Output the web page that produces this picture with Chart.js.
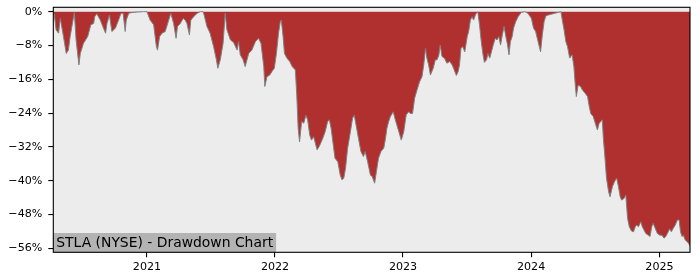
<!DOCTYPE html>
<html><head><meta charset="utf-8">
<script src="https://cdn.jsdelivr.net/npm/chart.js@4/dist/chart.umd.min.js"></script>
<style>html,body{margin:0;padding:0;background:#fff}#wrap{width:700px;height:280px;position:relative}</style>
</head><body><div id="wrap"><canvas id="c"></canvas></div>
<script>
const dates = [
'2020-04-09','2020-04-12','2020-04-17','2020-04-24','2020-04-29','2020-05-08','2020-05-16','2020-05-22','2020-05-27','2020-06-01',
'2020-06-08','2020-06-13','2020-06-21','2020-06-25','2020-07-04','2020-07-16','2020-07-25','2020-08-02','2020-08-05','2020-08-11',
'2020-08-21','2020-08-30','2020-09-05','2020-09-09','2020-09-16','2020-09-23','2020-10-03','2020-10-12','2020-10-19','2020-10-25',
'2020-10-31','2020-11-03','2020-11-10','2020-11-19','2020-12-04','2020-12-22','2021-01-01','2021-01-10','2021-01-20','2021-01-28',
'2021-01-31','2021-02-06','2021-02-13','2021-02-22','2021-03-04','2021-03-10','2021-03-18','2021-03-25','2021-03-29','2021-04-06',
'2021-04-14','2021-04-20','2021-04-25','2021-05-02','2021-05-06','2021-05-14','2021-05-24','2021-06-02','2021-06-10','2021-06-13',
'2021-06-21','2021-06-30','2021-07-10','2021-07-18','2021-07-22','2021-07-29','2021-08-06','2021-08-12','2021-08-17','2021-08-27',
'2021-09-05','2021-09-15','2021-09-19','2021-09-24','2021-10-02','2021-10-08','2021-10-18','2021-10-27','2021-11-06','2021-11-15',
'2021-11-22','2021-11-30','2021-12-03','2021-12-09','2021-12-17','2021-12-23','2021-12-30','2022-01-05','2022-01-11','2022-01-16',
'2022-01-19','2022-01-24','2022-01-28','2022-02-04','2022-02-12','2022-02-19','2022-02-28','2022-03-04','2022-03-08','2022-03-12',
'2022-03-18','2022-03-24','2022-03-30','2022-04-04','2022-04-10','2022-04-15','2022-04-21','2022-04-25','2022-05-01','2022-05-07',
'2022-05-17','2022-05-24','2022-05-31','2022-06-05','2022-06-10','2022-06-16','2022-06-21','2022-06-29','2022-07-06','2022-07-11',
'2022-07-16','2022-07-21','2022-07-27','2022-08-04','2022-08-10','2022-08-15','2022-08-20','2022-08-27','2022-09-03','2022-09-10',
'2022-09-15','2022-09-22','2022-09-30','2022-10-05','2022-10-12','2022-10-17','2022-10-23','2022-10-30','2022-11-07','2022-11-12',
'2022-11-16','2022-11-21','2022-11-26','2022-12-04','2022-12-10','2022-12-20','2022-12-27','2023-01-03','2023-01-10','2023-01-17',
'2023-01-22','2023-01-28','2023-02-03','2023-02-10','2023-02-17','2023-02-24','2023-03-01','2023-03-06','2023-03-10','2023-03-15',
'2023-03-20','2023-03-28','2023-04-03','2023-04-08','2023-04-13','2023-04-17','2023-04-22','2023-04-29','2023-05-06','2023-05-14',
'2023-05-21','2023-05-25','2023-06-02','2023-06-07','2023-06-11','2023-06-15','2023-06-20','2023-06-26','2023-07-03','2023-07-07',
'2023-07-12','2023-07-17','2023-07-21','2023-07-27','2023-08-02','2023-08-07','2023-08-12','2023-08-17','2023-08-21','2023-08-27',
'2023-08-31','2023-09-05','2023-09-10','2023-09-15','2023-09-21','2023-09-26','2023-10-01','2023-10-06','2023-10-11','2023-10-16',
'2023-10-21','2023-10-26','2023-10-30','2023-11-03','2023-11-08','2023-11-12','2023-11-18','2023-11-25','2023-12-04','2023-12-14',
'2023-12-23','2024-01-02','2024-01-08','2024-01-14','2024-01-21','2024-01-28','2024-02-02','2024-02-07','2024-02-12','2024-02-19',
'2024-02-28','2024-03-08','2024-03-18','2024-03-26','2024-03-30','2024-04-04','2024-04-09','2024-04-14','2024-04-20','2024-04-27',
'2024-05-02','2024-05-06','2024-05-09','2024-05-14','2024-05-21','2024-05-26','2024-06-03','2024-06-10','2024-06-14','2024-06-19',
'2024-06-26','2024-07-02','2024-07-08','2024-07-13','2024-07-18','2024-07-22','2024-07-25','2024-07-29','2024-08-03','2024-08-09',
'2024-08-13','2024-08-20','2024-08-26','2024-09-01','2024-09-06','2024-09-11','2024-09-15','2024-09-22','2024-09-27','2024-10-02',
'2024-10-07','2024-10-13','2024-10-19','2024-10-24','2024-10-28','2024-11-02','2024-11-09','2024-11-13','2024-11-18','2024-11-23',
'2024-11-30','2024-12-05','2024-12-10','2024-12-14','2024-12-20','2024-12-26','2025-01-02','2025-01-08','2025-01-14','2025-01-19',
'2025-01-26','2025-01-30','2025-02-04','2025-02-09','2025-02-15','2025-02-21','2025-02-26','2025-03-02','2025-03-06','2025-03-10',
'2025-03-15','2025-03-20','2025-03-25','2025-03-29'
];
const drawdown = [
0,-0.8,-4.3,-5.1,-1.6,-5.9,-9.9,-9.1,-5.9,-3.5,
-0.2,-6.7,-12.6,-9.9,-7.5,-5.9,-3.1,-2.8,-1.2,-0.5,
-2.0,-3.9,-5.1,-2.8,-0.8,-4.7,-3.9,-2.0,-0.4,-0.4,
-4.7,-2.0,-0.4,-0.2,-0.1,0,0,-2.0,-3.1,-8.3,
-9.1,-5.9,-5.1,-4.7,-2.0,-0.4,-2.8,-6.3,-3.5,-2.8,
-1.6,-2.0,-2.8,-5.5,-2.0,-1.2,-0.4,0,0,-0.8,
-3.5,-5.1,-8.3,-11.4,-13.4,-11.4,-7.5,-0.4,-4.3,-6.7,
-7.3,-9.1,-7.1,-10.2,-11.4,-13.0,-9.9,-9.1,-7.1,-6.3,
-7.5,-13.0,-17.7,-15.4,-15.0,-14.2,-13.4,-9.9,-5.1,-2.4,
-2.0,-5.9,-9.9,-11.0,-11.8,-13.0,-13.8,-19.7,-27.6,-30.8,
-26.0,-26.4,-24.5,-25.6,-29.2,-30.4,-29.6,-30.8,-32.7,-31.9,
-30.0,-28.4,-26.0,-25.6,-27.6,-31.5,-34.7,-35.5,-38.7,-39.8,
-39.4,-37.1,-32.3,-28.4,-25.2,-24.5,-26.8,-30.0,-33.1,-34.3,
-33.1,-35.5,-38.7,-39.0,-40.6,-37.9,-34.7,-33.1,-32.3,-30.0,
-27.6,-26.0,-24.8,-23.7,-25.6,-28.4,-30.4,-28.4,-24.4,-23.7,
-24.1,-24.1,-20.5,-18.5,-16.6,-15.4,-12.6,-8.7,-11.0,-12.6,
-15.0,-13.4,-11.4,-11.4,-10.3,-7.9,-10.6,-11.0,-12.2,-11.8,
-12.6,-13.4,-15.1,-14.2,-12.6,-8.7,-8.3,-9.5,-5.9,-4.7,
-2.0,-1.2,-2.0,-0.6,0,-3.1,-7.1,-10.2,-12.0,-11.4,
-9.9,-11.0,-9.5,-7.9,-6.3,-6.7,-5.9,-7.9,-5.5,-3.5,
-5.9,-7.9,-10.2,-7.1,-5.9,-3.9,-2.4,-1.2,-0.2,0,
-0.4,-1.6,-3.9,-4.7,-7.1,-9.5,-5.5,-2.4,-1.0,-0.8,
-0.6,-0.4,-0.2,0,-2.0,-4.3,-7.1,-8.3,-11.0,-10.2,
-13.0,-17.4,-20.1,-17.4,-17.7,-18.5,-19.3,-20.1,-22.1,-24.1,
-24.8,-26.4,-28.0,-26.4,-26.0,-25.6,-30.0,-33.9,-39.4,-42.6,
-43.8,-41.4,-40.2,-39.4,-41.4,-43.8,-44.6,-44.2,-43.4,-48.9,
-50.9,-51.9,-52.1,-50.9,-50.5,-50.9,-49.7,-50.9,-51.7,-52.5,
-52.9,-53.2,-50.9,-50.1,-51.3,-52.5,-52.9,-52.9,-53.6,-53.2,
-52.1,-51.4,-52.1,-51.3,-50.5,-49.3,-49.3,-52.1,-53.2,-52.9,
-54.0,-54.4,-54.8,-55.5
];
const yearTicks = ['2021-01-01','2022-01-01','2023-01-01','2024-01-01','2025-01-01'];
const yearLabels = ['2021','2022','2023','2024','2025'];
const yTicks = [0,-8,-16,-24,-32,-40,-48,-56];
const chartLabel = 'STLA (NYSE) - Drawdown Chart';
const xStart = '2020-04-09', xEnd = '2025-03-29';
const yMin = -56.95, yMax = 1.03;

const toDay = s => Date.parse(s + 'T00:00:00Z') / 864e5;
const points = dates.map((d, i) => ({x: toDay(d), y: drawdown[i]}));
const FONT = '"DejaVu Sans"';

const framePlugin = {
  id: 'frame',
  beforeDraw(chart) {
    const a = chart.chartArea, c = chart.ctx;
    c.save();
    c.fillStyle = '#ececec';
    c.fillRect(a.left, a.top, a.right - a.left, a.bottom - a.top);
    c.restore();
  },
  afterDraw(chart) {
    const a = chart.chartArea, c = chart.ctx;
    c.save();
    c.font = '13.9px ' + FONT;
    const w = c.measureText(chartLabel).width;
    c.fillStyle = '#b3b3b3';
    c.fillRect(a.left, a.bottom - 19.3, w + 6, 19.3);
    c.fillStyle = '#000';
    c.textBaseline = 'alphabetic';
    c.textAlign = 'left';
    c.fillText(chartLabel, a.left + 3, a.bottom - 5);
    c.strokeStyle = '#000';
    c.lineWidth = 1.1;
    c.strokeRect(a.left, a.top, a.right - a.left, a.bottom - a.top);
    c.restore();
  }
};

const axisGrid = {display: true, drawOnChartArea: false, drawTicks: true, tickLength: 5, color: '#000', lineWidth: 1.1};

new Chart(document.getElementById('c'), {
  type: 'line',
  data: {datasets: [{
    data: points, borderColor: '#808080', borderWidth: 1, backgroundColor: '#b03030',
    fill: 'origin', pointRadius: 0, tension: 0
  }]},
  options: {
    responsive: true, maintainAspectRatio: false, animation: false, events: [],
    layout: {padding: {top: 7.3, right: 10, left: 0, bottom: 0}},
    plugins: {legend: {display: false}, tooltip: {enabled: false}},
    scales: {
      x: {
        type: 'linear', min: toDay(xStart), max: toDay(xEnd),
        afterBuildTicks: s => { s.ticks = yearTicks.map(t => ({value: toDay(t)})); },
        ticks: {callback: (v, i) => yearLabels[i], font: {family: 'DejaVu Sans', size: 11.1}, color: '#000', padding: 3, maxRotation: 0, autoSkip: false},
        grid: axisGrid, border: {display: false},
        afterFit: s => { s.height = 27.7; s.paddingLeft = 0; s.paddingRight = 0; }
      },
      y: {
        min: yMin, max: yMax,
        afterBuildTicks: s => { s.ticks = yTicks.map(v => ({value: v})); },
        ticks: {callback: v => (v < 0 ? '\u2212' : '') + Math.abs(v) + '%', font: {family: 'DejaVu Sans', size: 11.1}, color: '#000', padding: 6, autoSkip: false},
        grid: axisGrid, border: {display: false},
        afterFit: s => { s.width = 53.3; s.paddingTop = 0; s.paddingBottom = 0; }
      }
    }
  },
  plugins: [framePlugin]
});
</script>
</body></html>
